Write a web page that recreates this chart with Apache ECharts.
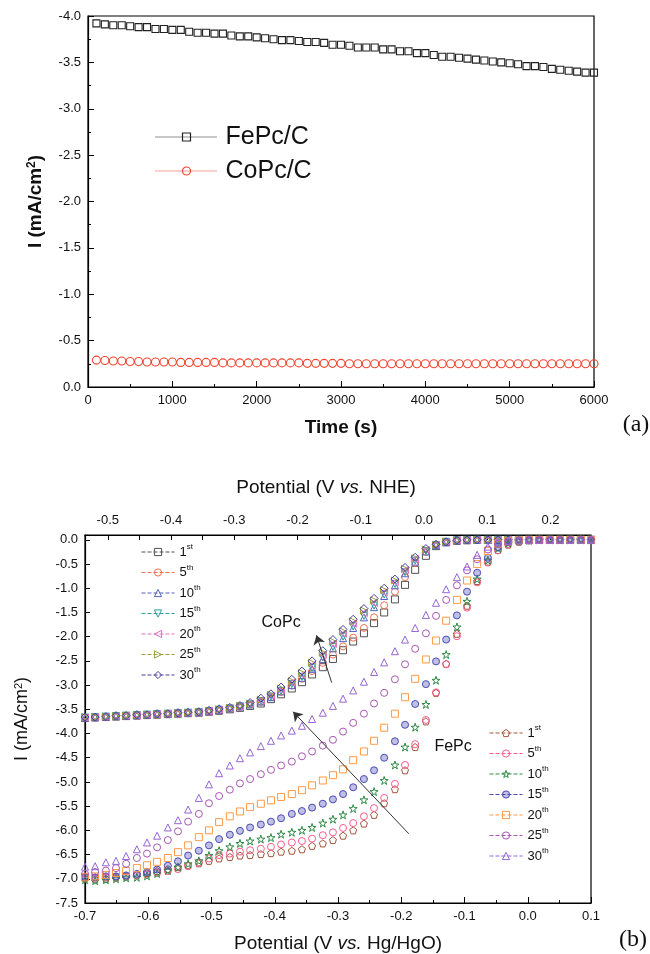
<!DOCTYPE html>
<html>
<head>
<meta charset="utf-8">
<title>FePc / CoPc</title>
<script src="https://cdn.jsdelivr.net/npm/echarts@6/dist/echarts.min.js"></script>
<style>
  html, body { margin: 0; padding: 0; background: #fff; }
  #main { width: 650px; height: 954px; }
</style>
</head>
<body>
<div id="main"></div>
<script>
// ---- panel (a): current vs time ----
var timeS = [100, 200, 300, 400, 500, 600, 700, 800, 900, 1000,
  1100, 1200, 1300, 1400, 1500, 1600, 1700, 1800, 1900, 2000,
  2100, 2200, 2300, 2400, 2500, 2600, 2700, 2800, 2900, 3000,
  3100, 3200, 3300, 3400, 3500, 3600, 3700, 3800, 3900, 4000,
  4100, 4200, 4300, 4400, 4500, 4600, 4700, 4800, 4900, 5000,
  5100, 5200, 5300, 5400, 5500, 5600, 5700, 5800, 5900, 6000];
var fepcC = [-3.92, -3.91, -3.90, -3.90, -3.89, -3.88, -3.88, -3.86, -3.86, -3.85,
  -3.85, -3.83, -3.82, -3.82, -3.81, -3.81, -3.79, -3.78, -3.78, -3.77,
  -3.76, -3.75, -3.74, -3.74, -3.73, -3.72, -3.72, -3.71, -3.69, -3.69,
  -3.68, -3.66, -3.66, -3.66, -3.64, -3.64, -3.62, -3.62, -3.60, -3.60,
  -3.58, -3.56, -3.56, -3.55, -3.54, -3.53, -3.52, -3.51, -3.50, -3.49,
  -3.48, -3.46, -3.46, -3.45, -3.43, -3.42, -3.41, -3.40, -3.39, -3.39];
var copcC = [-0.29, -0.285, -0.28, -0.28, -0.275, -0.275, -0.27, -0.27, -0.27, -0.27,
  -0.265, -0.265, -0.265, -0.265, -0.265, -0.26, -0.26, -0.26, -0.26, -0.26,
  -0.26, -0.26, -0.26, -0.26, -0.26, -0.255, -0.255, -0.255, -0.255, -0.255,
  -0.25, -0.25, -0.25, -0.25, -0.25, -0.25, -0.25, -0.25, -0.25, -0.25,
  -0.25, -0.25, -0.25, -0.25, -0.25, -0.25, -0.25, -0.25, -0.25, -0.25,
  -0.25, -0.25, -0.25, -0.25, -0.25, -0.25, -0.25, -0.25, -0.25, -0.25];

// ---- panel (b): polarisation curves, V vs Hg/HgO ----
var potential = [-0.700, -0.684, -0.667, -0.651, -0.635, -0.618, -0.602, -0.586, -0.569, -0.553,
  -0.537, -0.520, -0.504, -0.488, -0.471, -0.455, -0.439, -0.422, -0.406, -0.390,
  -0.373, -0.357, -0.341, -0.324, -0.308, -0.292, -0.276, -0.259, -0.243, -0.227,
  -0.210, -0.194, -0.178, -0.161, -0.145, -0.129, -0.112, -0.096, -0.080, -0.063,
  -0.047, -0.031, -0.014, 0.002, 0.018, 0.035, 0.051, 0.067, 0.084, 0.100];
var cycles = ['1st', '5th', '10th', '15th', '20th', '25th', '30th'];

var copc1 = [-3.68, -3.67, -3.66, -3.65, -3.64, -3.63, -3.62, -3.61, -3.60, -3.59,
  -3.58, -3.57, -3.55, -3.53, -3.50, -3.47, -3.43, -3.38, -3.29, -3.19,
  -3.07, -2.94, -2.78, -2.63, -2.46, -2.28, -2.10, -1.93, -1.72, -1.50,
  -1.23, -0.93, -0.62, -0.33, -0.13, -0.05, -0.02, -0.01, 0, 0,
  0, 0, 0, 0, 0, 0, 0, 0, 0, 0];
var copc5 = [-3.67, -3.67, -3.66, -3.65, -3.64, -3.63, -3.62, -3.61, -3.60, -3.59,
  -3.58, -3.57, -3.55, -3.52, -3.49, -3.45, -3.40, -3.34, -3.25, -3.14,
  -3.01, -2.87, -2.71, -2.54, -2.37, -2.20, -2.02, -1.82, -1.60, -1.35,
  -1.07, -0.77, -0.48, -0.25, -0.10, -0.04, -0.01, 0, 0, 0,
  0, 0, 0, 0, 0, 0, 0, 0, 0, 0];
var copc10 = [-3.67, -3.66, -3.65, -3.64, -3.63, -3.62, -3.61, -3.60, -3.59, -3.58,
  -3.57, -3.56, -3.54, -3.51, -3.48, -3.44, -3.40, -3.34, -3.25, -3.13,
  -3.00, -2.85, -2.67, -2.46, -2.24, -2.03, -1.82, -1.60, -1.39, -1.16,
  -0.94, -0.69, -0.45, -0.24, -0.11, -0.05, -0.01, 0, 0, 0,
  0, 0, 0, 0, 0, 0, 0, 0, 0, 0];
var copc15 = [-3.67, -3.66, -3.65, -3.64, -3.63, -3.62, -3.61, -3.60, -3.59, -3.58,
  -3.57, -3.56, -3.54, -3.51, -3.48, -3.44, -3.40, -3.33, -3.24, -3.12,
  -2.98, -2.83, -2.64, -2.43, -2.21, -2.00, -1.79, -1.57, -1.36, -1.13,
  -0.91, -0.67, -0.43, -0.23, -0.11, -0.04, -0.01, 0, 0, 0,
  0, 0, 0, 0, 0, 0, 0, 0, 0, 0];
var copc20 = [-3.67, -3.66, -3.65, -3.64, -3.63, -3.62, -3.61, -3.60, -3.59, -3.58,
  -3.57, -3.56, -3.54, -3.51, -3.48, -3.44, -3.39, -3.32, -3.22, -3.10,
  -2.95, -2.79, -2.59, -2.38, -2.15, -1.94, -1.73, -1.51, -1.30, -1.08,
  -0.87, -0.63, -0.40, -0.21, -0.10, -0.04, -0.01, 0, 0, 0,
  0, 0, 0, 0, 0, 0, 0, 0, 0, 0];
var copc25 = [-3.66, -3.66, -3.65, -3.64, -3.63, -3.62, -3.61, -3.60, -3.59, -3.58,
  -3.57, -3.55, -3.53, -3.50, -3.47, -3.43, -3.38, -3.30, -3.20, -3.07,
  -2.92, -2.75, -2.54, -2.33, -2.10, -1.89, -1.68, -1.46, -1.25, -1.04,
  -0.84, -0.60, -0.38, -0.20, -0.10, -0.04, -0.01, 0, 0, 0,
  0, 0, 0, 0, 0, 0, 0, 0, 0, 0];
var copc30 = [-3.66, -3.66, -3.65, -3.63, -3.63, -3.61, -3.61, -3.59, -3.59, -3.57,
  -3.56, -3.55, -3.52, -3.49, -3.46, -3.42, -3.36, -3.27, -3.18, -3.04,
  -2.88, -2.71, -2.50, -2.29, -2.06, -1.85, -1.64, -1.42, -1.21, -1.00,
  -0.81, -0.57, -0.36, -0.18, -0.09, -0.04, -0.01, 0, 0, 0,
  0, 0, 0, 0, 0, 0, 0, 0, 0, 0];

var fepc1 = [-6.99, -7.01, -7.00, -6.97, -6.95, -6.92, -6.88, -6.84, -6.80, -6.76,
  -6.72, -6.68, -6.63, -6.58, -6.55, -6.52, -6.51, -6.49, -6.47, -6.44,
  -6.42, -6.39, -6.32, -6.27, -6.20, -6.11, -6.00, -5.86, -5.68, -5.44,
  -5.15, -4.76, -4.28, -3.75, -3.16, -2.56, -1.94, -1.36, -0.85, -0.45,
  -0.21, -0.10, -0.04, -0.01, 0, 0, 0, 0, 0, 0];
var fepc5 = [-6.95, -6.98, -6.97, -6.96, -6.95, -6.93, -6.91, -6.88, -6.84, -6.80,
  -6.74, -6.66, -6.58, -6.51, -6.48, -6.44, -6.41, -6.38, -6.34, -6.29,
  -6.25, -6.22, -6.17, -6.10, -6.04, -5.95, -5.85, -5.71, -5.54, -5.33,
  -5.04, -4.65, -4.22, -3.72, -3.15, -2.57, -1.99, -1.40, -0.88, -0.47,
  -0.22, -0.09, -0.03, -0.01, 0, 0, 0, 0, 0, 0];
var fepc10 = [-7.02, -7.04, -7.02, -7.00, -6.98, -6.97, -6.94, -6.89, -6.83, -6.76,
  -6.69, -6.63, -6.52, -6.42, -6.34, -6.27, -6.22, -6.18, -6.15, -6.08,
  -6.04, -6.00, -5.94, -5.85, -5.77, -5.68, -5.55, -5.37, -5.20, -4.97,
  -4.65, -4.28, -3.87, -3.40, -2.90, -2.37, -1.80, -1.27, -0.81, -0.42,
  -0.18, -0.07, -0.02, -0.01, 0, 0, 0, 0, 0, 0];
var fepc15 = [-6.97, -6.97, -6.95, -6.95, -6.93, -6.90, -6.86, -6.81, -6.73, -6.64,
  -6.52, -6.42, -6.31, -6.18, -6.09, -6.01, -5.94, -5.88, -5.82, -5.75,
  -5.66, -5.60, -5.53, -5.45, -5.36, -5.25, -5.11, -4.94, -4.76, -4.50,
  -4.16, -3.82, -3.39, -2.98, -2.51, -2.06, -1.56, -1.07, -0.68, -0.37,
  -0.15, -0.05, -0.02, -0.01, 0, 0, 0, 0, 0, 0];
var fepc20 = [-6.97, -6.95, -6.92, -6.88, -6.84, -6.78, -6.72, -6.65, -6.57, -6.45,
  -6.31, -6.14, -6.00, -5.83, -5.71, -5.61, -5.52, -5.45, -5.38, -5.31,
  -5.25, -5.17, -5.07, -4.97, -4.86, -4.74, -4.55, -4.37, -4.15, -3.88,
  -3.59, -3.25, -2.87, -2.47, -2.08, -1.67, -1.24, -0.84, -0.50, -0.23,
  -0.08, -0.03, -0.01, 0, 0, 0, 0, 0, 0, 0];
var fepc25 = [-6.90, -6.86, -6.83, -6.78, -6.69, -6.57, -6.48, -6.35, -6.20, -6.02,
  -5.82, -5.66, -5.44, -5.29, -5.16, -5.03, -4.94, -4.84, -4.75, -4.66,
  -4.58, -4.47, -4.37, -4.25, -4.13, -3.96, -3.78, -3.59, -3.38, -3.16,
  -2.88, -2.57, -2.25, -1.93, -1.57, -1.24, -0.94, -0.63, -0.40, -0.20,
  -0.08, -0.03, -0.01, 0, 0, 0, 0, 0, 0, 0];
var fepc30 = [-6.75, -6.74, -6.66, -6.63, -6.53, -6.39, -6.25, -6.11, -5.94, -5.79,
  -5.57, -5.33, -5.05, -4.82, -4.66, -4.51, -4.39, -4.26, -4.15, -4.04,
  -3.94, -3.84, -3.70, -3.57, -3.43, -3.28, -3.11, -2.93, -2.73, -2.53,
  -2.30, -2.06, -1.82, -1.55, -1.30, -1.02, -0.77, -0.55, -0.31, -0.14,
  -0.05, -0.02, -0.01, 0, 0, 0, 0, 0, 0, 0];

// top axis: V vs NHE, same scale as the bottom axis shifted
var nheOffset = 0.164;
var nheTicks = [-0.5, -0.45, -0.4, -0.35, -0.3, -0.25, -0.2, -0.15, -0.1, -0.05, 0, 0.05, 0.1, 0.15, 0.2, 0.25];
var nheLabels = [-0.5, -0.4, -0.3, -0.2, -0.1, 0, 0.1, 0.2];
var yTicksB = [-7.5, -7, -6.5, -6, -5.5, -5, -4.5, -4, -3.5, -3, -2.5, -2, -1.5, -1, -0.5, 0];

// arrows and labels in panel (b), data coordinates
var coArrow = [[-0.310, -2.95], [-0.334, -1.97]];
var feArrow = [[-0.188, -6.07], [-0.371, -3.55]];
var coLabelAt = [-0.390, -1.70];
var feLabelAt = [-0.118, -4.28];

var FONT = '"Liberation Sans", Arial, sans-serif';

var pentagon = 'path://M50,0 L97.6,34.5 L79.4,90.5 L20.6,90.5 L2.4,34.5 Z';
var star = 'path://M50,0 L61.2,34.6 L97.6,34.5 L68.1,55.9 L79.4,90.5 L50,69 L20.6,90.5 L31.9,55.9 L2.4,34.5 L38.8,34.6 Z';

var coStyle = [
  { symbol: 'rect', rot: 0, color: '#505050' },
  { symbol: 'circle', rot: 0, color: '#f0704e' },
  { symbol: 'triangle', rot: 0, color: '#5562c4' },
  { symbol: 'triangle', rot: 180, color: '#2e9e9c' },
  { symbol: 'triangle', rot: 90, color: '#e070c0' },
  { symbol: 'triangle', rot: -90, color: '#9d9d3c' },
  { symbol: 'diamond', rot: 0, color: '#4a3ea0' }
];
var feStyle = [
  { symbol: pentagon, rot: 0, color: '#a4553a' },
  { symbol: 'circle', rot: 0, color: '#fa5c8c' },
  { symbol: star, rot: 0, color: '#2e8b45' },
  { symbol: 'circle', rot: 0, color: '#4a4ab4', fill: 'rgba(74,74,180,0.35)' },
  { symbol: 'rect', rot: 0, color: '#ff9a45' },
  { symbol: 'circle', rot: 0, color: '#a955b5' },
  { symbol: 'triangle', rot: 0, color: '#9565d5' }
];

function pairs(xs, ys) {
  return xs.map(function (x, i) { return [x, ys[i]]; });
}

function cvSeries(name, ys, st, size) {
  return {
    name: name,
    type: 'line',
    xAxisIndex: 1,
    yAxisIndex: 1,
    data: pairs(potential, ys),
    symbol: st.symbol,
    symbolRotate: st.rot,
    symbolSize: size,
    showAllSymbol: true,
    lineStyle: { color: st.color, width: 0 },
    itemStyle: { color: st.fill || 'rgba(255,255,255,0)', borderColor: st.color, borderWidth: 1 },
    emphasis: { disabled: true },
    z: 3
  };
}

var coData = [copc1, copc5, copc10, copc15, copc20, copc25, copc30];
var feData = [fepc1, fepc5, fepc10, fepc15, fepc20, fepc25, fepc30];

var series = [
  {
    name: 'FePc/C', type: 'line', xAxisIndex: 0, yAxisIndex: 0,
    data: pairs(timeS, fepcC), symbol: 'rect', symbolSize: 7, showAllSymbol: true,
    lineStyle: { color: '#222', width: 0 },
    itemStyle: { color: 'rgba(255,255,255,0)', borderColor: '#222', borderWidth: 1.1 },
    emphasis: { disabled: true }
  },
  {
    name: 'CoPc/C', type: 'line', xAxisIndex: 0, yAxisIndex: 0,
    data: pairs(timeS, copcC), symbol: 'circle', symbolSize: 8, showAllSymbol: true,
    lineStyle: { color: '#f0442e', width: 0 },
    itemStyle: { color: 'rgba(255,255,255,0)', borderColor: '#f0442e', borderWidth: 1.1 },
    emphasis: { disabled: true }
  }
];
cycles.forEach(function (c, i) {
  series.push(cvSeries('CoPc ' + c, coData[i], coStyle[i], i === 6 ? 8 : 7));
});
cycles.forEach(function (c, i) {
  series.push(cvSeries('FePc ' + c, feData[i], feStyle[i], i === 2 ? 8 : 7));
});

// arrows + text notes
var arrowLine = { color: '#333', width: 1, type: 'solid' };
series[2].markLine = {
  silent: true, symbol: ['none', 'arrow'], symbolSize: 9, lineStyle: arrowLine, label: { show: false },
  data: [[{ coord: coArrow[0] }, { coord: coArrow[1] }], [{ coord: feArrow[0] }, { coord: feArrow[1] }]]
};
series[2].markPoint = {
  silent: true, symbolSize: 0,
  label: { show: true, position: 'inside', color: '#111', fontSize: 16, fontFamily: FONT },
  data: [
    { coord: coLabelAt, label: { formatter: 'CoPc' } },
    { coord: feLabelAt, label: { formatter: 'FePc' } }
  ]
};

function cycleLabel(name) {
  var p = name.split(' ')[1];
  var num = p.replace(/[a-z]+$/, '');
  return '{n|' + num + '}{s|' + p.slice(num.length) + '}';
}

var cvLegendText = {
  color: '#111',
  fontFamily: FONT,
  rich: {
    n: { fontSize: 13, lineHeight: 18, fontFamily: FONT, color: '#111' },
    s: { fontSize: 8, lineHeight: 10, verticalAlign: 'top', fontFamily: FONT, color: '#111' }
  }
};

var tickLabel = { color: '#111', fontSize: 13, fontFamily: FONT };
var axisLineBlack = { show: true, onZero: false, lineStyle: { color: '#000', width: 1.2 } };

var option = {
  animation: false,
  backgroundColor: '#fff',
  grid: [
    { left: 88, top: 16, width: 506, height: 371, show: true, borderColor: '#000', borderWidth: 1.2 },
    { left: 85, top: 535, width: 506, height: 371, show: true, borderColor: '#000', borderWidth: 1.2 }
  ],
  xAxis: [
    {
      gridIndex: 0, type: 'value', min: 0, max: 6000, interval: 1000,
      axisLine: axisLineBlack,
      axisTick: { inside: true, length: 6, lineStyle: { color: '#000' } },
      minorTick: { show: true, splitNumber: 2, length: 3, lineStyle: { color: '#000' } },
      splitLine: { show: false },
      axisLabel: Object.assign({ margin: 7, formatter: function (v) { return String(v); } }, tickLabel),
      name: 'Time (s)', nameLocation: 'middle', nameGap: 31,
      nameTextStyle: { fontSize: 19, fontWeight: 'bold', color: '#111', fontFamily: FONT }
    },
    {
      gridIndex: 1, type: 'value', position: 'bottom', min: -0.7, max: 0.1, interval: 0.1,
      axisLine: axisLineBlack,
      axisTick: { inside: true, length: 6, lineStyle: { color: '#000' } },
      minorTick: { show: true, splitNumber: 2, length: 3, lineStyle: { color: '#000' } },
      splitLine: { show: false },
      axisLabel: Object.assign({ margin: 7, formatter: function (v) { return v.toFixed(1); } }, tickLabel),
      name: '{t|Potential (V }{i|vs.}{t| Hg/HgO)}', nameLocation: 'middle', nameGap: 31,
      nameTextStyle: {
        rich: {
          t: { fontSize: 19, color: '#111', fontFamily: FONT },
          i: { fontSize: 19, color: '#111', fontStyle: 'italic', fontFamily: FONT }
        }
      }
    },
    {
      gridIndex: 1, type: 'value', position: 'top', min: -0.7 + nheOffset, max: 0.1 + nheOffset,
      axisLine: axisLineBlack,
      axisTick: { inside: true, length: 5, customValues: nheTicks, lineStyle: { color: '#000' } },
      splitLine: { show: false },
      axisLabel: Object.assign({ margin: 8, customValues: nheLabels, formatter: function (v) { return v.toFixed(1); } }, tickLabel),
      name: '{t|Potential (V }{i|vs.}{t| NHE)}', nameLocation: 'middle', nameGap: 38,
      nameTextStyle: {
        padding: [0, 24, 0, 0],
        rich: {
          t: { fontSize: 19, color: '#111', fontFamily: FONT },
          i: { fontSize: 19, color: '#111', fontStyle: 'italic', fontFamily: FONT }
        }
      }
    }
  ],
  yAxis: [
    {
      gridIndex: 0, type: 'value', min: -4, max: 0, interval: 0.5, inverse: true,
      axisLine: axisLineBlack,
      axisTick: { inside: true, length: 6, lineStyle: { color: '#000' } },
      minorTick: { show: true, splitNumber: 2, length: 3, lineStyle: { color: '#000' } },
      splitLine: { show: false },
      axisLabel: Object.assign({ margin: 7, formatter: function (v) { return v.toFixed(1); } }, tickLabel),
      name: '{t|I (mA/cm}{u|2}{t|)}', nameLocation: 'middle', nameRotate: 90, nameGap: 43,
      nameTextStyle: {
        rich: {
          t: { fontSize: 19, fontWeight: 'bold', color: '#111', fontFamily: FONT },
          u: { fontSize: 12, fontWeight: 'bold', color: '#111', verticalAlign: 'top', fontFamily: FONT }
        }
      }
    },
    {
      gridIndex: 1, type: 'value', min: -7.5, max: 0.1,
      axisLine: axisLineBlack,
      axisTick: { inside: true, length: 5, customValues: yTicksB, lineStyle: { color: '#000' } },
      splitLine: { show: false },
      axisLabel: Object.assign({ margin: 7, customValues: yTicksB, formatter: function (v) { return v.toFixed(1); } }, tickLabel),
      name: '{t|I (mA/cm}{u|2}{t|)}', nameLocation: 'middle', nameRotate: 90, nameGap: 54,
      nameTextStyle: {
        rich: {
          t: { fontSize: 18, color: '#111', fontFamily: FONT },
          u: { fontSize: 11, color: '#111', verticalAlign: 'top', fontFamily: FONT }
        }
      }
    }
  ],
  legend: [
    {
      data: ['FePc/C', 'CoPc/C'], orient: 'vertical', left: 150, top: 119,
      itemWidth: 62, itemHeight: 10, itemGap: 8, selectedMode: false,
      lineStyle: { width: 1, type: 'dotted', opacity: 1 },
      itemStyle: { color: 'rgba(255,255,255,0)', borderWidth: 1.2 },
      textStyle: { fontSize: 25, lineHeight: 26, color: '#111', fontFamily: FONT, padding: [0, 0, 0, 3] }
    },
    {
      data: cycles.map(function (c) { return 'CoPc ' + c; }),
      orient: 'vertical', left: 136, top: 538,
      itemWidth: 33, itemHeight: 9, itemGap: 5, selectedMode: false,
      lineStyle: { width: 1, type: 'dashed', opacity: 1 },
      itemStyle: { color: 'rgba(255,255,255,0)', borderWidth: 1 },
      formatter: cycleLabel, textStyle: cvLegendText
    },
    {
      data: cycles.map(function (c, i) {
        var d = { name: 'FePc ' + c };
        if (feStyle[i].fill) d.itemStyle = { color: feStyle[i].fill };
        return d;
      }),
      orient: 'vertical', left: 484, top: 719,
      itemWidth: 33, itemHeight: 9, itemGap: 5, selectedMode: false,
      lineStyle: { width: 1, type: 'dashed', opacity: 1 },
      itemStyle: { color: 'rgba(255,255,255,0)', borderWidth: 1 },
      formatter: cycleLabel, textStyle: cvLegendText
    }
  ],
  graphic: [
    { type: 'text', x: 636, y: 425, style: { text: '(a)', font: '24px "Liberation Serif", "Times New Roman", serif', fill: '#111', align: 'center', verticalAlign: 'middle' } },
    { type: 'text', x: 633, y: 940, style: { text: '(b)', font: '24px "Liberation Serif", "Times New Roman", serif', fill: '#111', align: 'center', verticalAlign: 'middle' } }
  ],
  series: series
};

var chart = echarts.init(document.getElementById('main'));
chart.setOption(option);
</script>
</body>
</html>
